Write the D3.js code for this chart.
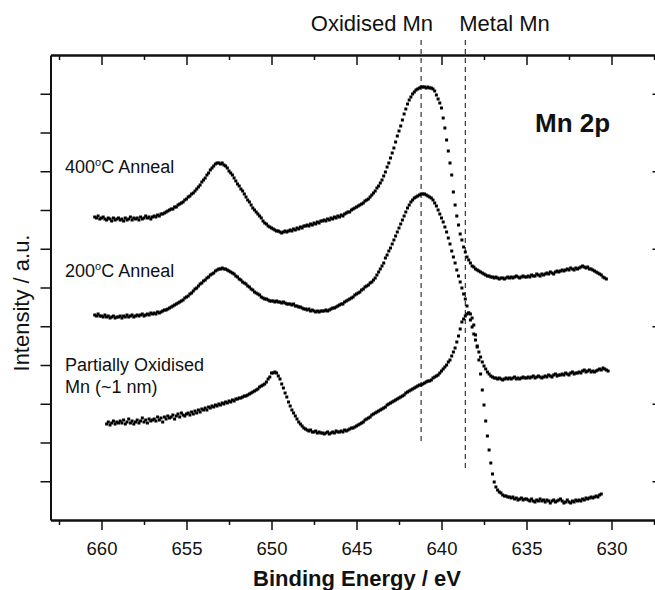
<!DOCTYPE html>
<html>
<head>
<meta charset="utf-8">
<script src="https://d3js.org/d3.v7.min.js"></script>
<style>
    body { margin: 0; background: #fff; }
    text { font-family: "Liberation Sans", Arial, sans-serif; fill: #111; }
    .axis path, .axis line { stroke: #111; }
</style>
</head>
<body>
<svg id="plot"></svg>
<script>

// energy grid of each scan (eV), measured every 0.1 eV going down
var start400 = 660.4;
var start200 = 660.4;
var startPartial = 659.7;
var stepEnergy = 0.1;

// intensities (a.u.)
var anneal400 = [
 303,302,304,301,302,
 303,301,300,302,301,299,302,300,301,302,
 300,301,299,302,300,301,303,300,302,301,
 302,300,303,301,302,304,302,303,301,303,
 304,303,305,304,306,306,307,308,309,310,
 311,311,313,313,315,316,317,318,320,321,
 323,324,326,327,329,331,333,335,338,340,
 342,345,347,350,352,354,356,357,357,356,
 357,355,354,352,349,347,345,342,339,336,
 334,331,329,326,323,320,318,315,312,310,
 308,306,304,302,299,297,296,294,293,292,
 291,290,289,289,288,287,288,289,288,289,
 290,289,291,290,292,291,293,292,294,294,
 295,294,296,295,297,296,298,297,299,299,
 300,299,301,300,302,301,303,302,304,303,
 305,304,306,307,308,308,310,311,312,313,
 314,315,316,317,319,320,321,323,325,327,
 329,332,334,337,340,344,348,353,357,362,
 367,372,378,384,389,394,400,406,411,416,
 420,423,426,428,430,431,432,433,433,433,
 432,433,432,432,431,429,425,421,417,412,
 402,392,380,369,357,345,328,315,304,295,
 286,280,273,268,263,260,257,254,253,251,
 250,249,248,247,246,245,244,244,243,243,
 242,243,242,241,242,242,241,242,243,242,
 243,242,243,244,243,242,243,244,243,243,
 244,243,245,244,244,246,245,244,246,245,
 246,247,246,248,247,246,248,249,248,249,
 250,249,250,251,250,252,251,250,252,251,
 252,253,254,253,252,253,251,251,250,249,
 248,247,246,245,243,242,241
];

var anneal200 = [
 205,204,206,204,204,
 203,205,203,204,202,203,204,202,203,203,
 204,202,204,203,205,203,204,205,203,204,
 205,204,205,206,204,205,206,205,207,206,
 207,206,208,207,208,209,210,210,211,212,
 213,214,215,216,217,218,219,220,222,223,
 224,226,227,229,231,232,234,236,237,239,
 240,242,243,245,246,247,249,250,251,251,
 252,251,251,250,249,248,247,246,244,243,
 241,240,238,237,236,234,233,231,230,228,
 227,226,225,223,222,221,221,220,219,219,
 219,218,219,218,218,217,218,217,216,216,
 216,215,216,214,214,213,213,212,211,211,
 210,211,209,210,209,208,209,208,209,209,
 209,210,209,210,211,212,212,213,214,215,
 216,216,218,219,220,221,222,223,225,226,
 227,228,230,231,233,234,235,237,238,240,
 242,245,248,251,254,257,262,265,269,272,
 276,280,284,288,292,296,300,304,308,312,
 315,318,320,322,323,324,325,326,326,326,
 325,324,323,322,320,317,314,310,306,302,
 298,293,288,282,276,269,263,257,250,244,
 238,232,226,221,214,207,200,193,186,180,
 174,168,163,158,154,151,148,146,144,143,
 142,142,141,142,141,140,141,142,141,142,
 141,142,143,141,142,141,142,143,142,142,
 143,142,143,144,142,143,144,143,142,143,
 144,143,145,144,143,145,146,144,145,145,
 146,145,147,146,145,147,148,146,147,147,
 148,147,149,150,148,149,150,148,149,148,
 149,150,151,150,152,151,150,149
];

var partial = [
 96,98,95,97,99,96,98,97,
 99,97,100,96,98,101,97,99,96,98,
 100,97,99,102,98,100,97,101,99,100,
 101,99,103,100,102,98,103,101,104,102,
 103,105,101,104,106,103,107,105,104,106,
 107,105,108,106,109,107,110,108,111,110,
 112,110,113,112,114,113,115,114,116,115,
 117,116,118,117,119,118,120,119,121,121,
 122,122,123,124,124,125,126,127,128,129,
 130,131,133,134,135,136,138,141,143,147,
 147,148,147,144,141,136,132,127,123,118,
 114,110,107,104,101,98,96,94,92,91,
 90,89,90,88,88,89,87,88,87,87,
 86,87,88,86,87,88,87,89,88,88,
 89,88,90,89,90,91,92,92,93,94,
 95,96,97,98,100,101,102,103,105,106,
 107,108,109,110,111,112,113,115,116,117,
 118,119,120,121,122,123,124,125,127,128,
 129,130,131,132,133,134,135,135,136,137,
 138,139,139,140,142,143,144,145,147,149,
 151,153,155,158,160,164,168,172,178,184,
 191,198,201,204,206,207,206,202,195,185,
 173,160,146,130,115,99,84,70,57,46,
 38,33,30,28,27,25,24,24,23,23,
 22,23,21,22,20,21,22,20,21,21,
 20,19,21,19,18,20,19,21,19,20,
 18,20,19,17,19,20,18,19,20,21,
 19,17,18,20,18,17,19,18,20,19,
 20,19,21,20,22,21,22,23,22,23,
 24,23,25,26
];

var xTicks = [660, 655, 650, 645, 640, 635, 630];
var xMinorTicks = [662.5, 657.5, 652.5, 647.5, 642.5, 637.5, 632.5, 627.5];
var yTicks = [38.75, 77.5, 116.25, 155, 193.75, 232.5, 271.25, 310, 348.75, 387.5, 426.25];
var yTicksRight = [38.75, 116.25, 193.75, 271.25, 348.75, 426.25];

var refEnergies = [641.2, 638.6];
var refNames = ["Oxidised Mn", "Metal Mn"];

var width = 655, height = 590;
var margins = {top: 55, bottom: 70, left: 50.5, right: -7.5};
var plotW = width - margins.left - margins.right;
var plotH = height - margins.top - margins.bottom;

var svg = d3.select("#plot")
    .attr("width", width)
    .attr("height", height);

var xScale = d3.scaleLinear()
    .domain([663, 627])
    .range([0, plotW]);

var yScale = d3.scaleLinear()
    .domain([0, 465])
    .range([plotH, 0]);

var g = svg.append("g")
    .attr("transform", "translate(" + margins.left + "," + margins.top + ")");

var toPoints = function(start, values)
{
    return values.map(function(v, i)
    {
        return {e: +(start - i * stepEnergy).toFixed(1), v: v};
    });
};

var series = [
    toPoints(start400, anneal400),
    toPoints(start200, anneal200),
    toPoints(startPartial, partial)
];

// reference lines for oxidised / metal Mn
var lineEnds = [78, 49];
g.selectAll(".ref")
    .data(refEnergies)
    .enter()
    .append("line")
    .attr("class", "ref")
    .attr("x1", function(d) { return xScale(d); })
    .attr("x2", function(d) { return xScale(d); })
    .attr("y1", -15)
    .attr("y2", function(d, i) { return yScale(lineEnds[i]); })
    .attr("stroke", "#222")
    .attr("stroke-width", 1.1)
    .attr("stroke-dasharray", "5,4");

// data points
series.forEach(function(pts)
{
    g.append("g")
        .selectAll("rect")
        .data(pts)
        .enter()
        .append("rect")
        .attr("x", function(d) { return xScale(d.e) - 1.5; })
        .attr("y", function(d) { return yScale(d.v) - 1.5; })
        .attr("width", 3)
        .attr("height", 3)
        .attr("fill", "#000");
});

// axes
var axisStyle = function(sel, w)
{
    sel.classed("axis", true);
    sel.select(".domain").attr("stroke-width", 2);
    sel.selectAll(".tick line").attr("stroke-width", w);
    sel.selectAll("text").remove();
};

g.append("g")
    .attr("transform", "translate(0," + plotH + ")")
    .call(d3.axisBottom(xScale).tickValues(xMinorTicks).tickSize(5).tickSizeOuter(0))
    .call(axisStyle, 1.5);

var bottom = g.append("g")
    .attr("transform", "translate(0," + plotH + ")")
    .call(d3.axisBottom(xScale).tickValues(xTicks).tickSize(10).tickSizeOuter(0).tickPadding(12));
bottom.classed("axis", true);
bottom.select(".domain").attr("stroke-width", 2);
bottom.selectAll(".tick line").attr("stroke-width", 1.5);
bottom.selectAll("text")
    .attr("font-size", "18.5px")
    .attr("font-family", "Liberation Sans, Arial, sans-serif")
    .attr("fill", "#111");

g.append("g")
    .call(d3.axisTop(xScale).tickValues(xMinorTicks).tickSize(-5).tickSizeOuter(0))
    .call(axisStyle, 1.5);

g.append("g")
    .call(d3.axisTop(xScale).tickValues(xTicks).tickSize(-10).tickSizeOuter(0))
    .call(axisStyle, 1.5);

g.append("g")
    .call(d3.axisLeft(yScale).tickValues(yTicks).tickSize(10).tickSizeOuter(0))
    .call(axisStyle, 1.5);

g.append("g")
    .attr("transform", "translate(" + plotW + ",0)")
    .call(d3.axisRight(yScale).tickValues(yTicksRight).tickSize(-10).tickSizeOuter(0))
    .call(axisStyle, 1.5);

// labels
var labels = svg.append("g");

labels.append("text")
    .attr("x", 357)
    .attr("y", 586)
    .attr("text-anchor", "middle")
    .attr("font-size", "22px")
    .attr("font-weight", "bold")
    .text("Binding Energy / eV");

labels.append("text")
    .attr("transform", "translate(28.5,303) rotate(-90)")
    .attr("text-anchor", "middle")
    .attr("font-size", "22px")
    .text("Intensity / a.u.");

labels.append("text")
    .attr("x", xScale(refEnergies[0]) + margins.left + 12)
    .attr("y", 31)
    .attr("text-anchor", "end")
    .attr("font-size", "22px")
    .text(refNames[0]);

labels.append("text")
    .attr("x", xScale(refEnergies[1]) + margins.left - 6)
    .attr("y", 31)
    .attr("font-size", "22px")
    .text(refNames[1]);

labels.append("text")
    .attr("x", 535)
    .attr("y", 132)
    .attr("font-size", "26px")
    .attr("font-weight", "bold")
    .text("Mn 2p");

var anneal = function(temp, y)
{
    var t = labels.append("text")
        .attr("x", 65)
        .attr("y", y)
        .attr("font-size", "18px");
    t.append("tspan").text(temp);
    t.append("tspan").attr("font-size", "11px").attr("dy", -7).text("o");
    t.append("tspan").attr("dy", 7).text("C Anneal");
};
anneal("400", 173);
anneal("200", 277);

labels.append("text")
    .attr("x", 65)
    .attr("y", 371)
    .attr("font-size", "18px")
    .text("Partially Oxidised");

labels.append("text")
    .attr("x", 65)
    .attr("y", 393)
    .attr("font-size", "18px")
    .text("Mn (~1 nm)");

</script>
</body>
</html>
